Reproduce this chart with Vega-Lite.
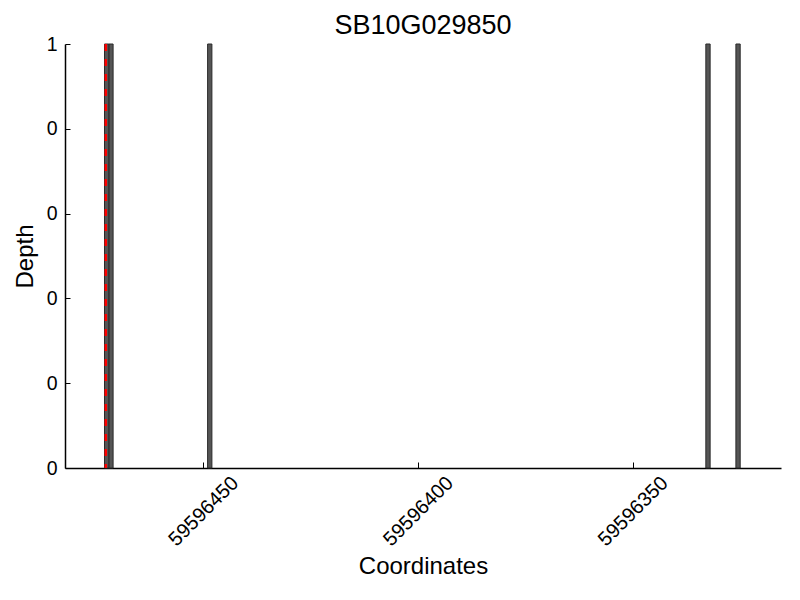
{
  "$schema": "https://vega.github.io/schema/vega-lite/v6.json",
  "autosize": "none",
  "width": 716,
  "height": 424,
  "padding": {"left": 65, "top": 44, "right": 19, "bottom": 132},
  "background": "white",
  "config": {
    "view": {"stroke": null},
    "font": "Liberation Sans"
  },
  "title": {
    "text": "SB10G029850",
    "fontSize": 27,
    "fontWeight": "normal",
    "font": "Liberation Sans",
    "color": "black",
    "offset": -6,
    "anchor": "middle"
  },
  "datasets": {
    "bars": [
      {"start": 59596471, "end": 59596472, "depth": 1},
      {"start": 59596472, "end": 59596473, "depth": 1},
      {"start": 59596448, "end": 59596449, "depth": 1},
      {"start": 59596332, "end": 59596333, "depth": 1},
      {"start": 59596325, "end": 59596326, "depth": 1}
    ],
    "marker": [
      {"pos": 59596472.7, "y0": 0, "y1": 1}
    ]
  },
  "layer": [
    {
      "data": {"name": "bars"},
      "mark": {"type": "rect", "fill": "#555555", "stroke": "#2a2a2a", "strokeWidth": 1},
      "encoding": {
        "x": {
          "field": "start",
          "type": "quantitative",
          "scale": {"domain": [59596482.2, 59596315.5], "nice": false, "zero": false},
          "axis": {
            "title": "Coordinates",
            "values": [59596450, 59596400, 59596350],
            "format": "d",
            "grid": false,
            "domainColor": "black",
            "domainWidth": 1.5,
            "tickColor": "black",
            "tickSize": -6,
            "labelAngle": -45,
            "labelAlign": "center",
            "labelBaseline": "middle",
            "labelFontSize": 20,
            "labelColor": "black",
            "labelPadding": 49,
            "titleFontSize": 24,
            "titleFontWeight": "normal",
            "titleColor": "black",
            "titlePadding": 5
          }
        },
        "x2": {"field": "end"},
        "y": {
          "field": "depth",
          "type": "quantitative",
          "scale": {"domain": [0, 1], "nice": false},
          "axis": {
            "title": "Depth",
            "values": [0, 0.2, 0.4, 0.6, 0.8, 1],
            "labelExpr": "toString(floor(datum.value))",
            "grid": false,
            "domainColor": "black",
            "domainWidth": 1.5,
            "tickColor": "black",
            "tickSize": -5,
            "labelFontSize": 19.5,
            "labelColor": "black",
            "labelPadding": 13,
            "titleFontSize": 24,
            "titleFontWeight": "normal",
            "titleColor": "black",
            "titlePadding": 9
          }
        },
        "y2": {"datum": 0}
      }
    },
    {
      "data": {"name": "marker"},
      "mark": {"type": "rule", "color": "red", "strokeWidth": 2.5, "strokeDash": [7, 8]},
      "encoding": {
        "x": {"field": "pos", "type": "quantitative"},
        "y": {"field": "y1", "type": "quantitative"},
        "y2": {"field": "y0"}
      }
    }
  ]
}
